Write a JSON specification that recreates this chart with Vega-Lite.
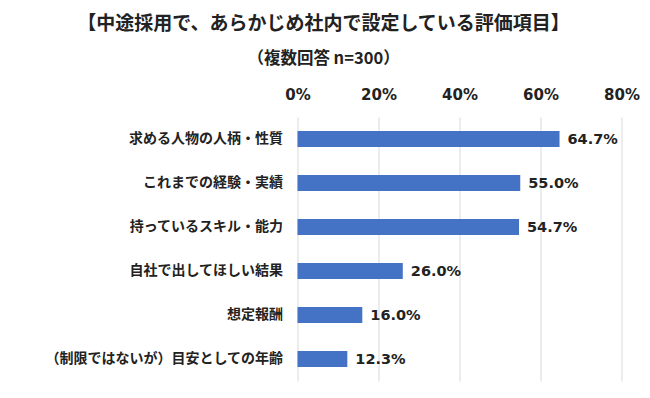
{
  "$schema": "https://vega.github.io/schema/vega-lite/v6.json",
  "width": 324,
  "height": 264,
  "autosize": {"type": "none"},
  "padding": {"left": 297.5, "top": 117, "right": 28.5, "bottom": 17},
  "background": "white",
  "title": {
    "text": "【中途採用で、あらかじめ社内で設定している評価項目】",
    "subtitle": "（複数回答 n=300）",
    "anchor": "middle",
    "frame": "group",
    "dx": -136,
    "font": "Noto Sans CJK JP",
    "fontSize": 19,
    "fontWeight": "bold",
    "color": "#222222",
    "subtitleFont": "Noto Sans CJK JP",
    "subtitleFontSize": 16.5,
    "subtitleFontWeight": "bold",
    "subtitleColor": "#222222",
    "subtitlePadding": 17,
    "offset": 20
  },
  "data": {
    "values": [
      {"item": "求める人物の人柄・性質", "value": 0.647},
      {"item": "これまでの経験・実績", "value": 0.55},
      {"item": "持っているスキル・能力", "value": 0.547},
      {"item": "自社で出してほしい結果", "value": 0.26},
      {"item": "想定報酬", "value": 0.16},
      {"item": "（制限ではないが）目安としての年齢", "value": 0.123}
    ]
  },
  "encoding": {
    "y": {
      "field": "item",
      "type": "nominal",
      "sort": null,
      "scale": {"paddingInner": 0.636, "paddingOuter": 0.318},
      "axis": {
        "title": null,
        "domain": false,
        "ticks": false,
        "labelFont": "Noto Sans CJK JP",
        "labelFontSize": 14,
        "labelFontWeight": "bold",
        "labelColor": "#222222",
        "labelPadding": 15,
        "labelLimit": 400
      }
    },
    "x": {
      "field": "value",
      "type": "quantitative",
      "scale": {"domain": [0, 0.8], "nice": false},
      "axis": {
        "orient": "top",
        "title": null,
        "values": [0, 0.2, 0.4, 0.6, 0.8],
        "format": ".0%",
        "domain": false,
        "ticks": false,
        "grid": true,
        "gridColor": "#d9d9d9",
        "gridWidth": 1,
        "labelFont": "DejaVu Sans",
        "labelFontSize": 15,
        "labelFontWeight": "bold",
        "labelColor": "#222222",
        "labelPadding": 15,
        "labelFlush": false
      }
    }
  },
  "layer": [
    {"mark": {"type": "bar", "color": "#4472C4"}},
    {
      "mark": {
        "type": "text",
        "align": "left",
        "baseline": "middle",
        "dx": 8,
        "dy": 1,
        "font": "DejaVu Sans",
        "fontSize": 14.5,
        "fontWeight": "bold",
        "color": "#222222"
      },
      "encoding": {"text": {"field": "value", "type": "quantitative", "format": ".1%"}}
    }
  ],
  "config": {"view": {"stroke": null}}
}
